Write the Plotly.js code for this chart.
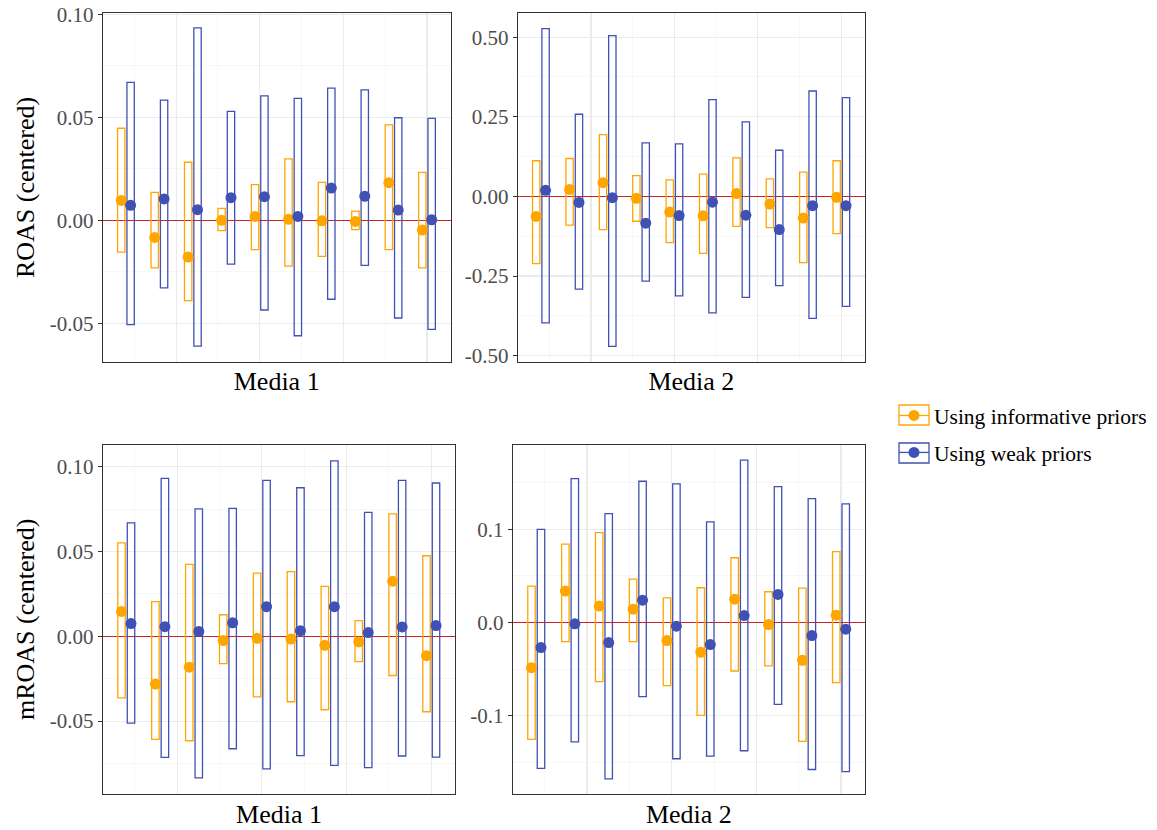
<!DOCTYPE html>
<html><head><meta charset="utf-8">
<script src="https://cdn.plot.ly/plotly-3.0.1.min.js"></script>
<style>html,body{margin:0;padding:0;background:#fff}#chart{width:1157px;height:830px}</style>
</head><body><div id="chart"></div>
<script>
const groups = [1,2,3,4,5,6,7,8,9,10];
const seriesNames = ['Using informative priors', 'Using weak priors'];
const xTitles = ['Media 1', 'Media 2'];
const yTitles = ['ROAS (centered)', 'mROAS (centered)'];

// Panel 1: ROAS, Media 1
const roasM1InfLo  = [-0.0154,-0.0231,-0.0390,-0.0050,-0.0142,-0.0222,-0.0175,-0.0045,-0.0142,-0.0231];
const roasM1InfMid = [ 0.0097,-0.0083,-0.0178, 0.0000, 0.0019, 0.0005,-0.0002,-0.0005, 0.0183,-0.0047];
const roasM1InfHi  = [ 0.0447, 0.0136, 0.0282, 0.0058, 0.0173, 0.0298, 0.0184, 0.0045, 0.0463, 0.0233];
const roasM1WeakLo  = [-0.0506,-0.0328,-0.0610,-0.0212,-0.0435,-0.0560,-0.0383,-0.0218,-0.0474,-0.0529];
const roasM1WeakMid = [ 0.0073, 0.0104, 0.0052, 0.0110, 0.0115, 0.0019, 0.0157, 0.0117, 0.0050, 0.0003];
const roasM1WeakHi  = [ 0.0670, 0.0584, 0.0934, 0.0529, 0.0604, 0.0592, 0.0642, 0.0633, 0.0498, 0.0495];

// Panel 2: ROAS, Media 2
const roasM2InfLo  = [-0.211,-0.090,-0.104,-0.078,-0.145,-0.179,-0.094,-0.098,-0.208,-0.117];
const roasM2InfMid = [-0.063, 0.022, 0.043,-0.006,-0.049,-0.061, 0.009,-0.024,-0.068,-0.003];
const roasM2InfHi  = [ 0.112, 0.119, 0.194, 0.065, 0.052, 0.070, 0.121, 0.055, 0.076, 0.112];
const roasM2WeakLo  = [-0.397,-0.291,-0.471,-0.266,-0.312,-0.366,-0.317,-0.280,-0.383,-0.345];
const roasM2WeakMid = [ 0.019,-0.019,-0.004,-0.084,-0.060,-0.018,-0.059,-0.104,-0.029,-0.029];
const roasM2WeakHi  = [ 0.527, 0.258, 0.505, 0.168, 0.165, 0.304, 0.234, 0.145, 0.331, 0.310];

// Panel 3: mROAS, Media 1
const mroasM1InfLo  = [-0.0363,-0.0608,-0.0616,-0.0161,-0.0357,-0.0386,-0.0433,-0.0149,-0.0231,-0.0445];
const mroasM1InfMid = [ 0.0147,-0.0282,-0.0182,-0.0025,-0.0012,-0.0016,-0.0053,-0.0033, 0.0325,-0.0114];
const mroasM1InfHi  = [ 0.0551, 0.0204, 0.0424, 0.0127, 0.0373, 0.0382, 0.0294, 0.0092, 0.0722, 0.0475];
const mroasM1WeakLo  = [-0.0512,-0.0714,-0.0835,-0.0663,-0.0782,-0.0704,-0.0761,-0.0775,-0.0706,-0.0712];
const mroasM1WeakMid = [ 0.0075, 0.0057, 0.0029, 0.0080, 0.0175, 0.0033, 0.0175, 0.0022, 0.0055, 0.0063];
const mroasM1WeakHi  = [ 0.0669, 0.0931, 0.0751, 0.0755, 0.0920, 0.0876, 0.1035, 0.0731, 0.0920, 0.0904];

// Panel 4: mROAS, Media 2
const mroasM2InfLo  = [-0.1254,-0.0204,-0.0634,-0.0204,-0.0677,-0.0996,-0.0520,-0.0466,-0.1276,-0.0645];
const mroasM2InfMid = [-0.0484, 0.0337, 0.0176, 0.0143,-0.0194,-0.0319, 0.0251,-0.0022,-0.0405, 0.0079];
const mroasM2InfHi  = [ 0.0390, 0.0842, 0.0964, 0.0466, 0.0265, 0.0373, 0.0695, 0.0330, 0.0369, 0.0760];
const mroasM2WeakLo  = [-0.1566,-0.1280,-0.1677,-0.0796,-0.1462,-0.1434,-0.1376,-0.0878,-0.1577,-0.1599];
const mroasM2WeakMid = [-0.0269,-0.0014,-0.0215, 0.0240,-0.0039,-0.0237, 0.0075, 0.0301,-0.0140,-0.0072];
const mroasM2WeakHi  = [ 0.1000, 0.1545, 0.1168, 0.1516, 0.1487, 0.1079, 0.1742, 0.1459, 0.1330, 0.1272];

// Tick labels
const tickVals1 = [-0.05, 0, 0.05, 0.10];
const tickText1 = ['-0.05', '0.00', '0.05', '0.10'];
const tickVals2 = [-0.50, -0.25, 0, 0.25, 0.50];
const tickText2 = ['-0.50', '-0.25', '0.00', '0.25', '0.50'];
const tickVals3 = [-0.05, 0, 0.05, 0.10];
const tickText3 = ['-0.05', '0.00', '0.05', '0.10'];
const tickVals4 = [-0.1, 0, 0.1];
const tickText4 = ['-0.1', '0.0', '0.1'];

const FONT = '"Liberation Serif", "Times New Roman", serif';
const ORANGE = '#FFA500';
const BLUE = '#3F51B5';
const COLORS = [ORANGE, BLUE];
const OFFSET = 0.14, BOXW = 0.22;

const traces = [];
function addPanel(n, infLo, infMid, infHi, wkLo, wkMid, wkHi) {
  const xa = n === 1 ? 'x' : 'x' + n, ya = n === 1 ? 'y' : 'y' + n;
  const sets = [
    {lo: infLo, mid: infMid, hi: infHi, color: ORANGE, dx: -OFFSET},
    {lo: wkLo, mid: wkMid, hi: wkHi, color: BLUE, dx: OFFSET}
  ];
  sets.forEach(s => {
    traces.push({
      type: 'bar', xaxis: xa, yaxis: ya,
      x: groups.map(g => g + s.dx),
      base: s.lo,
      y: s.hi.map((h, i) => h - s.lo[i]),
      width: BOXW,
      marker: {color: 'rgba(0,0,0,0)', line: {color: s.color, width: 1.3}},
      showlegend: false, hoverinfo: 'skip'
    });
  });
  sets.forEach(s => {
    traces.push({
      type: 'scatter', mode: 'markers', xaxis: xa, yaxis: ya,
      x: groups.map(g => g + s.dx), y: s.mid,
      marker: {color: s.color, size: 11},
      showlegend: false, hoverinfo: 'skip'
    });
  });
}
addPanel(1, roasM1InfLo, roasM1InfMid, roasM1InfHi, roasM1WeakLo, roasM1WeakMid, roasM1WeakHi);
addPanel(2, roasM2InfLo, roasM2InfMid, roasM2InfHi, roasM2WeakLo, roasM2WeakMid, roasM2WeakHi);
addPanel(3, mroasM1InfLo, mroasM1InfMid, mroasM1InfHi, mroasM1WeakLo, mroasM1WeakMid, mroasM1WeakHi);
addPanel(4, mroasM2InfLo, mroasM2InfMid, mroasM2InfHi, mroasM2WeakLo, mroasM2WeakMid, mroasM2WeakHi);

// legend entries
COLORS.forEach((c, i) => {
  traces.push({
    type: 'scatter', mode: 'lines+markers', x: [null], y: [null],
    name: seriesNames[i], legendgroup: 'g' + i,
    line: {color: c, width: 1.3}, marker: {color: c, size: 11},
    hoverinfo: 'skip'
  });
});

const W = 1157, H = 830;
const px = v => v / W, py = v => 1 - v / H;

function xAxis(dom, title, anchor) {
  return {
    domain: dom, anchor: anchor, range: [0.305, 10.709],
    tickmode: 'linear', tick0: 0, dtick: 2.5,
    showticklabels: false, ticks: '',
    showgrid: true, gridcolor: '#EBEBEB', gridwidth: 1.1,
    minor: {tick0: 0, dtick: 1.25, showgrid: true, gridcolor: '#F3F3F3', gridwidth: 0.7},
    zeroline: false,
    showline: true, mirror: true, linecolor: '#333333', linewidth: 1,
    title: {text: title, font: {family: FONT, size: 26, color: '#000'}, standoff: 10},
    fixedrange: true
  };
}
function yAxis(dom, range, tv, tt, mdt, title, anchor) {
  return {
    domain: dom, anchor: anchor, range: range,
    tickmode: 'array', tickvals: tv, ticktext: tt,
    ticks: 'outside', ticklen: 4, tickcolor: '#333333', tickwidth: 1,
    tickfont: {family: FONT, size: 21, color: '#4D4D4D'},
    showgrid: true, gridcolor: '#EBEBEB', gridwidth: 1.1,
    minor: {tick0: 0, dtick: mdt, showgrid: true, gridcolor: '#F3F3F3', gridwidth: 0.7},
    zeroline: true, zerolinecolor: '#CC2222', zerolinewidth: 1.5,
    showline: true, mirror: true, linecolor: '#333333', linewidth: 1,
    title: title ? {text: title, font: {family: FONT, size: 26, color: '#000'}, standoff: 7} : undefined,
    fixedrange: true
  };
}

const topY = [py(361.7), py(13.3)];
const botY = [py(794), py(444.7)];

// outline boxes around the legend keys (crossbar-style key)
const legendKeyBoxes = COLORS.map((c, i) => ({
  type: 'rect', xref: 'paper', yref: 'paper', layer: 'below',
  x0: px(899), x1: px(929),
  y0: py(405 + 38 * i), y1: py(425 + 38 * i),
  line: {color: c, width: 1.3}, fillcolor: 'rgba(0,0,0,0)'
}));

const layout = {
  width: W, height: H,
  margin: {l: 0, r: 0, t: 0, b: 0, autoexpand: false},
  paper_bgcolor: '#fff', plot_bgcolor: '#fff',
  barmode: 'overlay', bargap: 0,
  font: {family: FONT},
  showlegend: true,
  legend: {
    x: px(894), y: py(434), xanchor: 'left', yanchor: 'middle',
    font: {family: FONT, size: 21.5, color: '#000'},
    itemwidth: 30, tracegroupgap: 6, traceorder: 'grouped',
    bgcolor: 'rgba(0,0,0,0)'
  },
  shapes: legendKeyBoxes,
  xaxis:  xAxis([px(102.7), px(450.7)], xTitles[0], 'y'),
  yaxis:  yAxis(topY, [-0.0686, 0.1005], tickVals1, tickText1, 0.025, yTitles[0], 'x'),
  xaxis2: xAxis([px(517.7), px(865)], xTitles[1], 'y2'),
  yaxis2: yAxis(topY, [-0.519, 0.575], tickVals2, tickText2, 0.125, null, 'x2'),
  xaxis3: xAxis([px(102.7), px(455.3)], xTitles[0], 'y3'),
  yaxis3: yAxis(botY, [-0.093, 0.113], tickVals3, tickText3, 0.025, yTitles[1], 'x3'),
  xaxis4: xAxis([px(512.7), px(865)], xTitles[1], 'y4'),
  yaxis4: yAxis(botY, [-0.184, 0.1908], tickVals4, tickText4, 0.05, null, 'x4')
};

Plotly.newPlot('chart', traces, layout, {staticPlot: true, displayModeBar: false});
</script>
</body></html>
